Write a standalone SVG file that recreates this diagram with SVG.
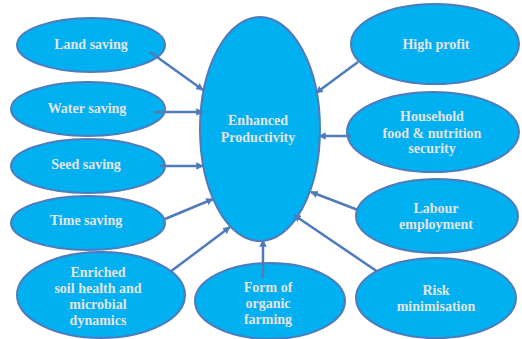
<svg xmlns="http://www.w3.org/2000/svg" width="522" height="339" viewBox="0 0 522 339">
<defs>
<style>
.n ellipse{fill:#00b0f0;stroke:#4f7bbb;stroke-width:2}
.n text{font-family:"Liberation Serif","Times New Roman",serif;font-weight:bold;font-size:14px;fill:#e4e4e4;text-anchor:middle}
.c line{stroke:#4f7bbb;stroke-width:2.5;marker-end:url(#ah)}
</style>
<marker id="ah" viewBox="0 0 10 10" refX="9" refY="5" markerWidth="3" markerHeight="3" orient="auto" markerUnits="strokeWidth">
<path d="M0,0 L10,5 L0,10 z" fill="#4f7bbb"/>
</marker>
</defs>
<g id="center" class="n"><ellipse cx="260" cy="129" rx="60" ry="112"/><text x="258" y="125">Enhanced</text><text x="258" y="142">Productivity</text></g>
<g id="land" class="n"><ellipse cx="91" cy="45" rx="74" ry="27"/><text x="91" y="49">Land saving</text></g>
<g id="water" class="n"><ellipse cx="88" cy="109" rx="77" ry="27"/><text x="87" y="113">Water saving</text></g>
<g id="seed" class="n"><ellipse cx="88" cy="166" rx="77" ry="27"/><text x="86" y="169">Seed saving</text></g>
<g id="time" class="n"><ellipse cx="88" cy="223" rx="77" ry="27"/><text x="86" y="225">Time saving</text></g>
<g id="soil" class="n"><ellipse cx="101" cy="295" rx="84" ry="43"/><text x="98" y="277">Enriched</text><text x="98" y="293">soil health and</text><text x="98" y="309">microbial</text><text x="98" y="325">dynamics</text></g>
<g id="form" class="n"><ellipse cx="270" cy="301" rx="75" ry="38"/><text x="268" y="292">Form of</text><text x="268" y="308">organic</text><text x="268" y="324">farming</text></g>
<g id="profit" class="n"><ellipse cx="435" cy="44" rx="84" ry="40"/><text x="436" y="49">High profit</text></g>
<g id="household" class="n"><ellipse cx="433" cy="132" rx="86" ry="40"/><text x="432" y="121">Household</text><text x="432" y="138">food &amp; nutrition</text><text x="432" y="153">security</text></g>
<g id="labour" class="n"><ellipse cx="437" cy="216" rx="81" ry="37"/><text x="436" y="213">Labour</text><text x="436" y="229">employment</text></g>
<g id="risk" class="n"><ellipse cx="436" cy="298" rx="80" ry="40"/><text x="436" y="295">Risk</text><text x="436" y="311">minimisation</text></g>
<g id="connectors" class="c">
<line x1="150" y1="52" x2="203" y2="90"/>
<line x1="154" y1="112" x2="203" y2="112"/>
<line x1="160" y1="166" x2="203" y2="166"/>
<line x1="165" y1="219" x2="213" y2="199"/>
<line x1="170" y1="272" x2="230" y2="227"/>
<line x1="263" y1="278" x2="263" y2="240"/>
<line x1="358" y1="62" x2="316" y2="93"/>
<line x1="351" y1="136" x2="319" y2="136"/>
<line x1="358" y1="210" x2="311" y2="192"/>
<line x1="378" y1="272" x2="294" y2="215"/>
</g>
</svg>
